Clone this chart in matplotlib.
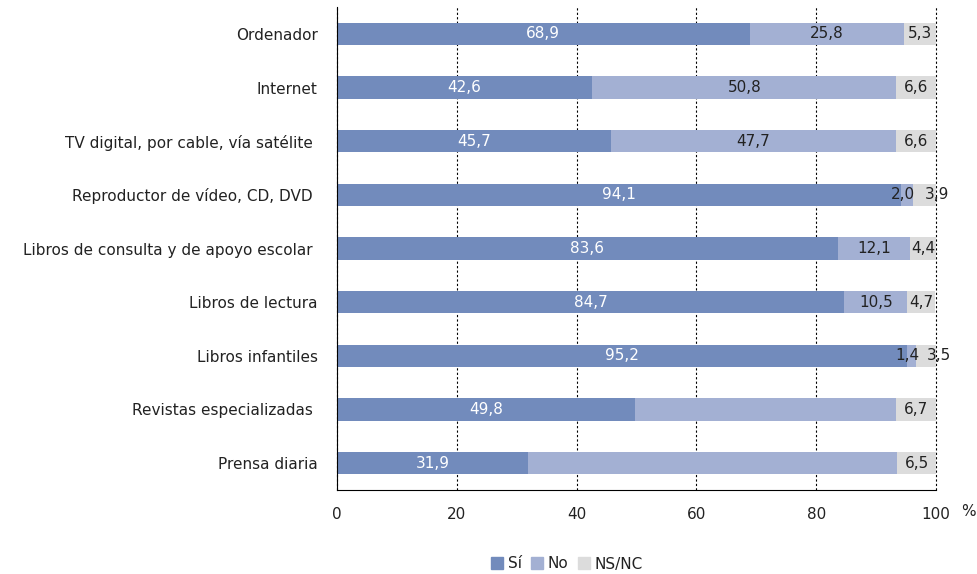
import matplotlib
matplotlib.use("Agg")
import matplotlib.pyplot as plt
from matplotlib.patches import Patch

categories = ["Ordenador", "Internet", "TV digital, por cable, vía satélite ",
              "Reproductor de vídeo, CD, DVD ", "Libros de consulta y de apoyo escolar ",
              "Libros de lectura", "Libros infantiles", "Revistas especializadas ",
              "Prensa diaria"]
si = [68.9, 42.6, 45.7, 94.1, 83.6, 84.7, 95.2, 49.8, 31.9]
no = [25.8, 50.8, 47.7, 2.0, 12.1, 10.5, 1.4, 43.5, 61.6]
nsnc = [5.3, 6.6, 6.6, 3.9, 4.4, 4.7, 3.5, 6.7, 6.5]
no_shown = [True, True, True, True, True, True, True, False, False]
series_names = ["Sí", "No", "NS/NC"]
xticks = [0, 20, 40, 60, 80, 100]

colors = ["#728bbc", "#a3b0d3", "#dcdcdc"]

plt.rcParams['font.family'] = ['DejaVu Sans']
fig = plt.figure(figsize=(9.77, 5.74), dpi=100)
ax = fig.add_axes([337/977, 1 - 490/574, (936-337)/977, (490-7)/574])

y = list(range(len(categories)))
h = 0.41
ax.barh(y, si, height=h, color=colors[0], zorder=3)
ax.barh(y, no, left=si, height=h, color=colors[1], zorder=3)
left3 = [a + b for a, b in zip(si, no)]
ax.barh(y, nsnc, left=left3, height=h, color=colors[2], zorder=3)

def fmt(v):
    return f"{v:.1f}".replace(".", ",")

for i in y:
    ax.text(si[i] / 2, i, fmt(si[i]), ha="center", va="center", color="white",
            fontsize=11, zorder=4)
    small = no[i] < 3
    if no_shown[i]:
        ax.annotate(fmt(no[i]), (si[i] + no[i] / 2, i), xytext=(-3 if small else 0, 0),
                    textcoords="offset points", ha="center", va="center",
                    color="#222222", fontsize=11, zorder=4)
    ax.annotate(fmt(nsnc[i]), (left3[i] + nsnc[i] / 2, i), xytext=(9 if small else 0, 0),
                textcoords="offset points", ha="center", va="center",
                color="#222222", fontsize=11, zorder=4)

ax.set_ylim(len(categories) - 0.5, -0.5)
ax.set_xlim(0, 100)
ax.set_yticks(y)
ax.set_yticklabels(categories, fontsize=11, color="#222222")
ax.set_xticks(xticks)
ax.set_xticklabels([str(t) for t in xticks], fontsize=11, color="#222222")
ax.tick_params(axis="both", length=0)
ax.tick_params(axis="y", pad=14)
ax.tick_params(axis="x", pad=12)
ax.grid(axis="x", linestyle=(0, (2, 2)), color="black", linewidth=0.8, zorder=0)
for gl in ax.get_xgridlines():
    gl.set_clip_on(False)
for s in ["top", "right"]:
    ax.spines[s].set_visible(False)
ax.spines["left"].set_color("black")
ax.spines["bottom"].set_color("black")
ax.spines["left"].set_zorder(5)

fig.text(968/977, 1 - 512/574, "%", ha="center", va="center", fontsize=11, color="#222222")

handles = [Patch(color=c, label=n) for c, n in zip(colors, series_names)]
fig.legend(handles=handles, loc="center", bbox_to_anchor=(567/977, 1 - 564/574), ncol=3,
           frameon=False, fontsize=11, handlelength=0.8, handleheight=0.8,
           handletextpad=0.3, columnspacing=0.6, labelcolor="#222222")

fig.savefig("out.png", dpi=100)
